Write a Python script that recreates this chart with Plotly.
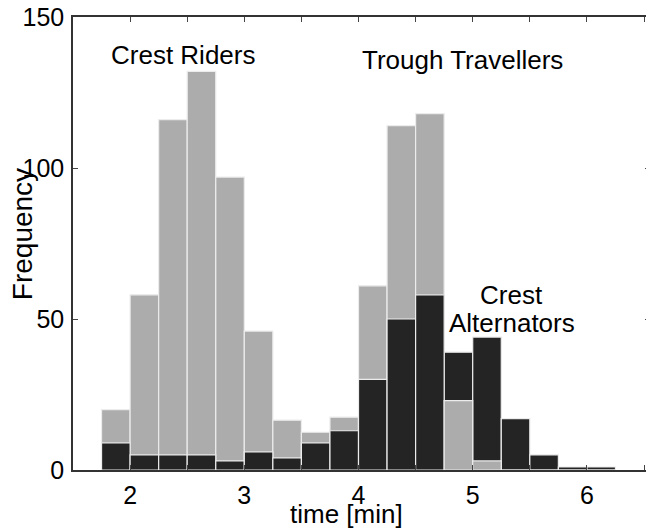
import plotly.graph_objects as go

# Bin centres (bin width 0.25 min)
bin_centers = [1.875, 2.125, 2.375, 2.625, 2.875, 3.125, 3.375, 3.625, 3.875,
               4.125, 4.375, 4.625, 4.875, 5.125, 5.375, 5.625, 5.875, 6.125]
gray_counts = [20, 58, 116, 132, 97, 46, 16.5, 12.5, 17.5,
               61, 114, 118, 23, 3, 0, 0, 0, 0]
dark_counts = [9, 5, 5, 5, 3, 6, 4, 9, 13,
               30, 50, 58, 39, 44, 17, 5, 1, 1]
x_tick_vals = [1.5, 2, 2.5, 3, 3.5, 4, 4.5, 5, 5.5, 6, 6.5]
x_tick_text = ["", "2", "", "3", "", "4", "", "5", "", "6", ""]
y_tick_vals = [0, 50, 100, 150]

GRAY = "#acacac"
DARK = "#242424"
EDGE = "#ececec"
BIN_W = 0.25

back_vals = [max(g, d) for g, d in zip(gray_counts, dark_counts)]
front_vals = [min(g, d) for g, d in zip(gray_counts, dark_counts)]
back_cols = [GRAY if g >= d else DARK for g, d in zip(gray_counts, dark_counts)]
front_cols = [DARK if g >= d else GRAY for g, d in zip(gray_counts, dark_counts)]

fig = go.Figure()
fig.add_trace(go.Bar(x=bin_centers, y=back_vals, width=BIN_W,
                     marker=dict(color=back_cols, line=dict(color=EDGE, width=1.2)),
                     showlegend=False, hoverinfo="skip"))
fig.add_trace(go.Bar(x=bin_centers, y=front_vals, width=BIN_W,
                     marker=dict(color=front_cols, line=dict(color=EDGE, width=1.2)),
                     showlegend=False, hoverinfo="skip"))

FONT = "Liberation Sans, Arial, Helvetica, sans-serif"

# The figure is slightly wider than the window: the right-hand frame of the
# reference sits just past the visible edge.
FIG_W = 652
L_PX = 73
PX_PER_UNIT = 114.6
x_max = 1.5 + (FIG_W - L_PX) / PX_PER_UNIT

fig.update_layout(
    width=FIG_W, height=532,
    margin=dict(l=L_PX, r=0, t=17, b=62),
    barmode="overlay",
    plot_bgcolor="white", paper_bgcolor="white",
    font=dict(family=FONT, size=25, color="black"),
    xaxis=dict(range=[1.5, x_max], tickmode="array", tickvals=x_tick_vals, ticktext=x_tick_text,
               ticks="inside", ticklen=5, tickwidth=1, tickcolor="#444",
               showline=True, linecolor="#333", linewidth=1.5, mirror="ticks",
               showgrid=False, zeroline=False, tickfont=dict(size=25),
               ticklabelstandoff=2, ticklabeloverflow="allow"),
    yaxis=dict(range=[0, 150], tickmode="array", tickvals=y_tick_vals,
               ticks="inside", ticklen=5, tickwidth=1, tickcolor="#444",
               showline=True, linecolor="#333", linewidth=1.5, mirror="ticks",
               showgrid=False, zeroline=False, tickfont=dict(size=25),
               ticklabelstandoff=2, ticklabeloverflow="allow"),
    annotations=[
        dict(text="Crest Riders", x=2.46, y=137.4, xref="x", yref="y", showarrow=False,
             font=dict(size=26)),
        dict(text="Trough Travellers", x=4.91, y=135.8, xref="x", yref="y", showarrow=False,
             font=dict(size=26)),
        dict(text="Crest", x=5.34, y=57.9, xref="x", yref="y", showarrow=False,
             font=dict(size=26)),
        dict(text="Alternators", x=5.34, y=48.7, xref="x", yref="y", showarrow=False,
             font=dict(size=26)),
        dict(text="Frequency", x=22, y=234, xref="paper", yref="paper", showarrow=False,
             textangle=-90, font=dict(size=28)),
        dict(text="time [min]", x=347, y=514, xref="paper", yref="paper", showarrow=False,
             font=dict(size=26)),
    ],
)

# Convert page-pixel positions of the axis titles to paper coordinates
for ann in fig.layout.annotations:
    if ann.xref == "paper":
        px, py = ann.x, ann.y
        ann.x = (px - L_PX) / (FIG_W - L_PX)
        ann.y = (470 - py) / (470 - 17)
        ann.xanchor = "center"
        ann.yanchor = "middle"

# remove the default page margin so the figure fills the window exactly
fig.write_html("out.html",
               config={"displayModeBar": False},
               post_script="document.body.style.margin='0';document.body.style.overflow='hidden';")
